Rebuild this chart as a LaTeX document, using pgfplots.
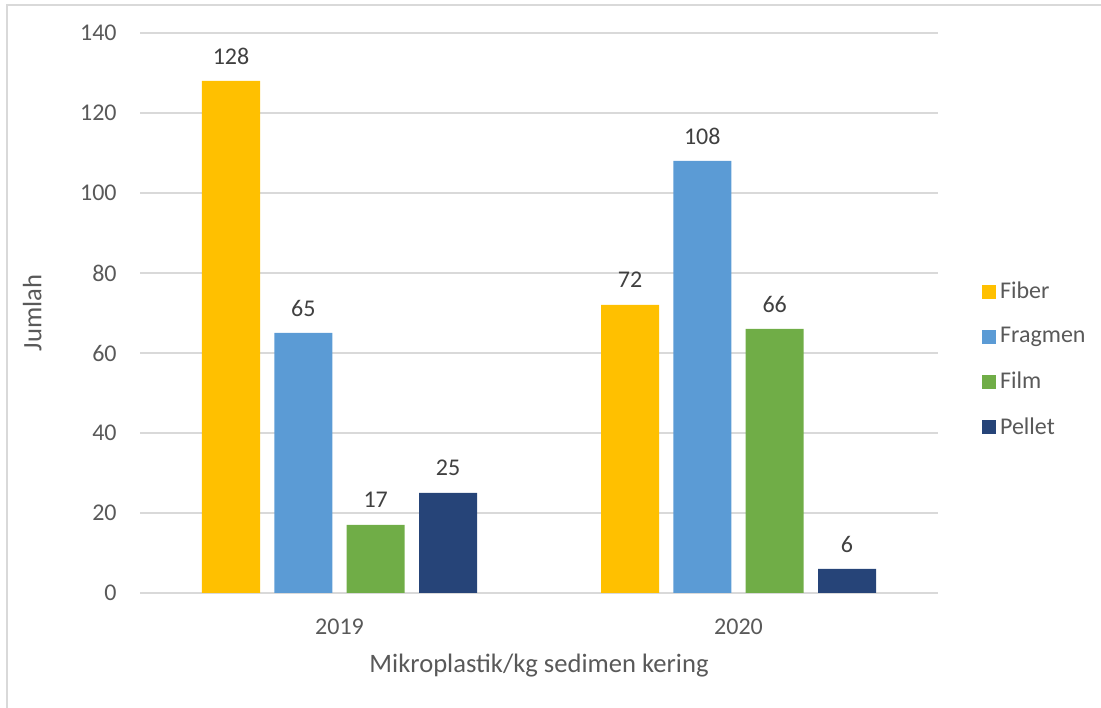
\documentclass[border=0pt]{standalone}
\usepackage{pgfplots}
\pgfplotsset{compat=1.18}
\usepackage{fontspec}
\setmainfont{Carlito}
\definecolor{cFiber}{HTML}{FFC000}
\definecolor{cFrag}{HTML}{5B9BD5}
\definecolor{cFilm}{HTML}{70AD47}
\definecolor{cPellet}{HTML}{264478}
\definecolor{cText}{HTML}{595959}
\definecolor{cLab}{HTML}{404040}
\definecolor{cGrid}{HTML}{D9D9D9}
\begin{document}
\begin{tikzpicture}
\useasboundingbox (0,0) rectangle (550.5bp,354bp);
\draw[cGrid, line width=0.8bp] (3.5bp,0) -- (3.5bp,351.5bp) -- (551bp,351.5bp);
\begin{axis}[
  at={(70bp,57.5bp)}, anchor=south west,
  scale only axis, width=399bp, height=280bp,
  xmin=-0.5, xmax=1.5, ymin=0, ymax=140,
  ytick={0,20,...,140},
  xtick={0,1}, xticklabels={2019,2020},
  axis line style={draw=none},
  major tick length=0pt,
  ymajorgrids, grid style={cGrid, line width=0.6bp},
  extra y ticks={0}, extra y tick style={grid style={cGrid, line width=0.8bp}, yticklabel=\empty},
  ticklabel style={font=\fontsize{12bp}{14bp}\selectfont, text=cText},
  /pgf/number format/assume math mode=true,
  yticklabel style={anchor=east, inner sep=0pt, xshift=-11.5bp},
  xticklabel style={anchor=center, inner sep=0pt, yshift=-17bp},
  xlabel={Mikroplastik/kg sedimen kering},
  ylabel={Jumlah},
  label style={font=\fontsize{13.3bp}{15bp}\selectfont, text=cText},
  xlabel style={at={(axis description cs:0.5,-0.129)}, anchor=center},
  ylabel style={at={(axis description cs:-0.135,0.5)}, anchor=center},
  ybar=0pt, bar width=29bp,
  nodes near coords,
  every node near coord/.append style={font=\fontsize{12bp}{14bp}\selectfont, text=cLab, anchor=center, yshift=12.5bp},
  legend style={draw=none, fill=none, at={(axis description cs:1.0548,0.417)}, anchor=west,
    font=\fontsize{12bp}{14bp}\selectfont, text=cText, inner sep=0pt, row sep=9bp},
  legend cell align=left,
  legend image code/.code={\fill[#1] (-3.5bp,-3.5bp) rectangle (3.5bp,3.5bp);},
]
\addplot[fill=cFiber, draw=none, bar shift=-54.25bp] coordinates {(0,128) (1,72)};
\addplot[fill=cFrag, draw=none, bar shift=-18.1bp] coordinates {(0,65) (1,108)};
\addplot[fill=cFilm, draw=none, bar shift=18.1bp] coordinates {(0,17) (1,66)};
\addplot[fill=cPellet, draw=none, bar shift=54.25bp] coordinates {(0,25) (1,6)};
\legend{Fiber, Fragmen, Film, Pellet}
\end{axis}
\end{tikzpicture}
\end{document}
